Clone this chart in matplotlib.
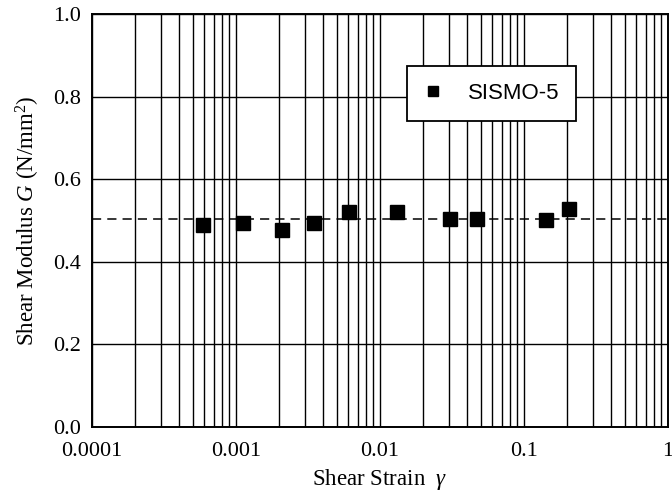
import matplotlib
matplotlib.use('Agg')
import matplotlib.pyplot as plt
from matplotlib.ticker import LogLocator, FixedLocator, NullFormatter

plt.rcParams['font.family'] = ['Liberation Serif', 'DejaVu Serif']
plt.rcParams['mathtext.fontset'] = 'custom'
plt.rcParams['mathtext.rm'] = 'Liberation Serif'
plt.rcParams['mathtext.it'] = 'Liberation Serif:italic'

# data
strain = [0.00059, 0.00112, 0.0021, 0.0035, 0.0061, 0.0131, 0.0306, 0.047, 0.142, 0.205]
modulus = [0.490, 0.494, 0.476, 0.494, 0.520, 0.520, 0.504, 0.504, 0.502, 0.528]
mean_g = 0.503
x_ticks = [0.0001, 0.001, 0.01, 0.1, 1]
x_tick_labels = ['0.0001', '0.001', '0.01', '0.1', '1']
y_ticks = [0.0, 0.2, 0.4, 0.6, 0.8, 1.0]

fig = plt.figure(figsize=(6.72, 4.97), dpi=100)
ax = fig.add_axes([0.137, 0.141, 0.857, 0.831])

ax.set_xscale('log')
ax.set_xlim(0.0001, 1)
ax.set_ylim(0, 1.0)

# log grid: every minor decade line plus horizontal lines every 0.2
ax.xaxis.set_major_locator(FixedLocator(x_ticks))
ax.xaxis.set_minor_locator(LogLocator(base=10, subs=range(2, 10), numticks=20))
ax.xaxis.set_minor_formatter(NullFormatter())
ax.set_xticks(x_ticks)
ax.set_xticklabels(x_tick_labels)
ax.set_yticks(y_ticks)
ax.set_yticklabels([f'{v:.1f}' for v in y_ticks])
ax.grid(True, which='both', axis='x', color='black', lw=1.0)
ax.grid(True, which='major', axis='y', color='black', lw=1.0)
ax.tick_params(which='both', length=0, labelsize=16)
ax.tick_params(axis='x', pad=11)
ax.tick_params(axis='y', pad=8)

ax.axhline(mean_g, color='black', ls=(0, (6, 4)), lw=1.1, zorder=3)
ax.plot(strain, modulus, 's', color='black', markersize=10, label='SISMO-5', zorder=4)

for s in ax.spines.values():
    s.set_linewidth(1.4)

leg = ax.legend(loc='upper left', bbox_to_anchor=(0.547, 0.873), frameon=True,
                fancybox=False, edgecolor='black', framealpha=1, markerscale=0.75,
                handlelength=0.8, handletextpad=1.2, borderpad=0.75, borderaxespad=0,
                prop={'family': 'Liberation Sans', 'size': 16})
leg.get_frame().set_linewidth(1.3)

ax.set_xlabel(r'Shear Strain  $\gamma$', fontsize=16.5, labelpad=4)
ax.set_ylabel(r'Shear Modulus $G$ (N/mm$^2$)', fontsize=16.5, labelpad=8)

plt.savefig('out.png', dpi=100)
